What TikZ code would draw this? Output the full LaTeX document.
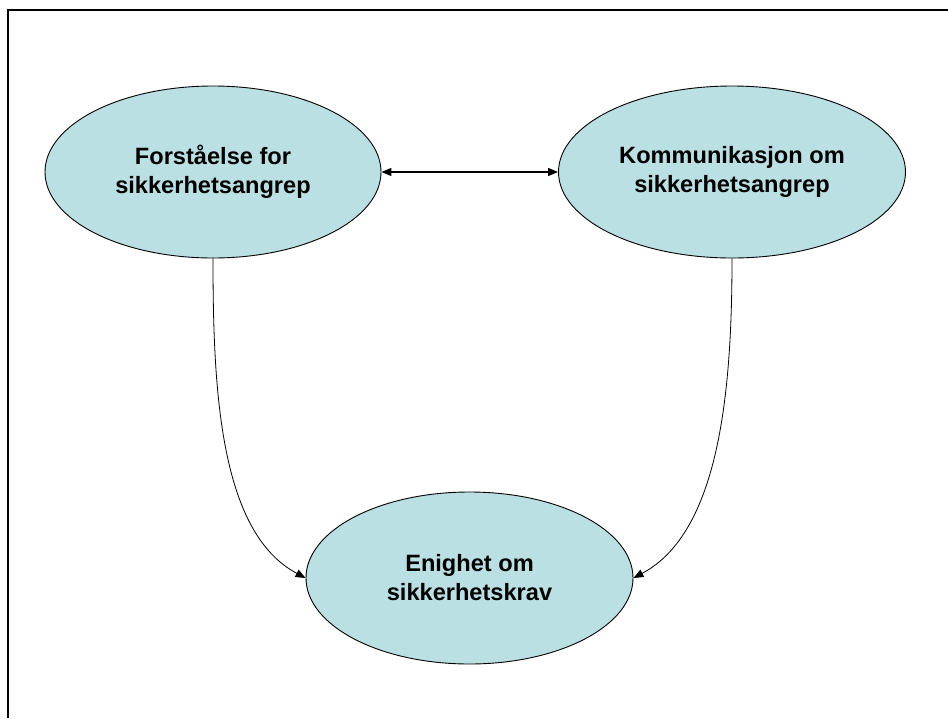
\documentclass[tikz,border=0pt]{standalone}
\usepackage{fontspec}
\setmainfont{Liberation Sans}
\usetikzlibrary{shapes.geometric,arrows.meta}
\definecolor{bubble}{RGB}{187,224,227}
\begin{document}
\begin{tikzpicture}[x=1pt,y=-1pt,
  bubble/.style={ellipse,draw=black,line width=0.9pt,fill=bubble,inner sep=0pt,
    align=center,font=\fontsize{23.6}{29}\selectfont\bfseries},
  link/.style={line width=0.8pt,-{Triangle[length=10pt,width=8pt]}},
  both/.style={line width=1.2pt,{Triangle[length=10pt,width=8pt]}-{Triangle[length=10pt,width=8pt]}}]
  \useasboundingbox[fill=white] (0,0) rectangle (948,718);
  % page frame (open at right and bottom)
  \draw[line width=2pt] (8.2,718) -- (8.2,10.2) -- (948,10.2);
  % the three topics
  \node[bubble,minimum width=336pt,minimum height=172pt] (forst) at (213,172)
    {Forståelse for\\sikkerhetsangrep};
  \node[bubble,minimum width=347pt,minimum height=172pt] (komm) at (732,172)
    {Kommunikasjon om\\sikkerhetsangrep};
  \node[bubble,minimum width=327pt,minimum height=172pt] (enig) at (469.5,578)
    {Enighet om\\sikkerhetskrav};
  % connectors
  \draw[both] (forst.east) -- (komm.west);
  \draw[link] (forst.south) to[out=-90,in=152,out looseness=1.0,in looseness=0.75] (enig.west);
  \draw[link] (komm.south) to[out=-90,in=28,out looseness=1.0,in looseness=0.75] (enig.east);
\end{tikzpicture}
\end{document}
